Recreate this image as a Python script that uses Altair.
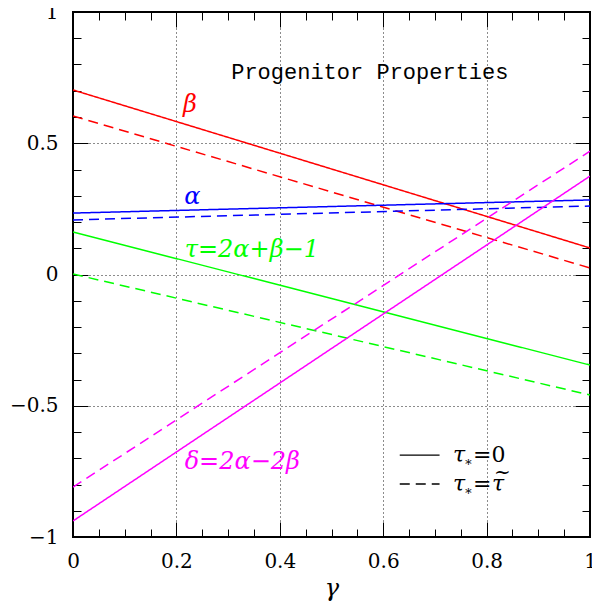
import altair as alt
import pandas as pd

# ---- data ----
gamma = [0.0, 1.0]
beta_solid = [0.703, 0.101]
beta_dashed = [0.604, 0.025]
alpha_solid = [0.234, 0.284]
alpha_dashed = [0.208, 0.261]
tau_solid = [0.162, -0.345]
tau_dashed = [0.002, -0.459]
delta_solid = [-0.939, 0.375]
delta_dashed = [-0.81, 0.47]

series_names = ["beta", "alpha", "tau", "delta"]
series_colors = ["#ff0000", "#0000ff", "#00ff00", "#ff00ff"]

x_major = [0, 0.2, 0.4, 0.6, 0.8, 1]
x_minor = [round(i * 0.05, 2) for i in range(21)]
x_grid = [0.2, 0.4, 0.6, 0.8]
y_major = [-1, -0.5, 0, 0.5, 1]
y_minor = [round(-1 + i * 0.1, 1) for i in range(21)]
y_grid = [-0.5, 0, 0.5]

label_text = ["β", "α", "τ=2α+β−1", "δ=2α−2β"]
label_x = [0.213, 0.215, 0.216, 0.216]
label_y = [0.646, 0.295, 0.093, -0.714]
label_color = ["#ff0000", "#0000ff", "#00ff00", "#ff00ff"]

title_text = ["Progenitor Properties"]
title_x = [0.306]
title_y = [0.771]

legend_case = ["solid", "dashed"]
legend_x1 = [0.632, 0.632]
legend_x2 = [0.709, 0.709]
legend_y = [-0.688, -0.798]
legend_tau_x = [0.735, 0.735]
legend_rhs = ["=0", "="]
tilde_case = ["dashed"]
tilde_x = [0.735]
tilde_y = [-0.798]

rows = []
for name, case, vals in [
    ("beta", "solid", beta_solid), ("beta", "dashed", beta_dashed),
    ("alpha", "solid", alpha_solid), ("alpha", "dashed", alpha_dashed),
    ("tau", "solid", tau_solid), ("tau", "dashed", tau_dashed),
    ("delta", "solid", delta_solid), ("delta", "dashed", delta_dashed),
]:
    for g, v in zip(gamma, vals):
        rows.append({"gamma": g, "value": v, "series": name, "case": case})
df = pd.DataFrame(rows)

xs = alt.Scale(domain=[0, 1], nice=False, zero=False)
ys = alt.Scale(domain=[-1, 1], nice=False, zero=False)

SERIF = "DejaVu Serif, Liberation Serif, serif"
MONO = "Liberation Mono, DejaVu Sans Mono, monospace"
LABEL_EXPR = "replace(format(datum.value, '~g'), '-', '−')"

def tick_axis(orient, values, size):
    return alt.Axis(orient=orient, values=values, labels=False, domain=False,
                    grid=False, title=None, ticks=True, tickSize=size,
                    offset=-size, tickColor="black", tickWidth=1)

def grid_axis(orient, values):
    return alt.Axis(orient=orient, values=values, labels=False, domain=False,
                    ticks=False, title=None, grid=True, gridColor="#000000",
                    gridDash=[1, 3], gridWidth=1, gridOpacity=0.9)

x_label_axis = alt.Axis(orient="bottom", values=x_major, ticks=False, domain=False,
                        grid=False, labelFont=SERIF, labelFontSize=20,
                        labelColor="black", labelPadding=14, labelFlush=False,
                        labelOverlap=False, labelExpr=LABEL_EXPR,
                        title="γ", titleFont=SERIF, titleFontStyle="italic",
                        titleFontWeight="normal", titleFontSize=24, titlePadding=5,
                        titleColor="black")
y_label_axis = alt.Axis(orient="left", values=y_major, ticks=False, domain=False,
                        grid=False, labelFont=SERIF, labelFontSize=20,
                        labelColor="black", labelPadding=15, labelFlush=False,
                        labelOverlap=False, labelExpr=LABEL_EXPR,
                        title=None)

ax_pairs = [
    (x_label_axis, y_label_axis),
    (grid_axis("bottom", x_grid), grid_axis("left", y_grid)),
    (tick_axis("bottom", x_major, 15), tick_axis("left", y_major, 15)),
    (tick_axis("bottom", x_minor, 8), tick_axis("left", y_minor, 8)),
    (tick_axis("top", x_major, 15), tick_axis("right", y_major, 15)),
    (tick_axis("top", x_minor, 8), tick_axis("right", y_minor, 8)),
]

axis_layers = [
    alt.Chart(df).mark_point(opacity=0).encode(
        x=alt.X("gamma:Q", scale=xs, axis=axx),
        y=alt.Y("value:Q", scale=ys, axis=axy),
    )
    for axx, axy in ax_pairs
]

dash_scale = alt.Scale(domain=["solid", "dashed"], range=[[1, 0], [10, 6]])

lines = alt.Chart(df).mark_line(strokeWidth=1.5, clip=True).encode(
    x=alt.X("gamma:Q", scale=xs, axis=None),
    y=alt.Y("value:Q", scale=ys, axis=None),
    color=alt.Color("series:N", scale=alt.Scale(domain=series_names, range=series_colors), legend=None),
    strokeDash=alt.StrokeDash("case:N", scale=dash_scale, legend=None),
)

lab_df = pd.DataFrame({"text": label_text, "x": label_x, "y": label_y, "c": label_color})
labels = alt.Chart(lab_df).mark_text(align="left", baseline="middle", font=SERIF,
                                     fontStyle="italic", fontSize=24).encode(
    x=alt.X("x:Q", scale=xs, axis=None),
    y=alt.Y("y:Q", scale=ys, axis=None),
    text="text:N",
    color=alt.Color("c:N", scale=None),
)

tt_df = pd.DataFrame({"text": title_text, "x": title_x, "y": title_y})
title = alt.Chart(tt_df).mark_text(align="left", baseline="middle", font=MONO,
                                   fontSize=22, color="black").encode(
    x=alt.X("x:Q", scale=xs, axis=None),
    y=alt.Y("y:Q", scale=ys, axis=None),
    text="text:N",
)

leg_df = pd.DataFrame({"case": legend_case, "x1": legend_x1, "x2": legend_x2, "y": legend_y,
                       "tx": legend_tau_x, "rhs": legend_rhs})
leg_lines = alt.Chart(leg_df).mark_rule(color="black", strokeWidth=1.3).encode(
    x=alt.X("x1:Q", scale=xs, axis=None),
    x2="x2:Q",
    y=alt.Y("y:Q", scale=ys, axis=None),
    strokeDash=alt.StrokeDash("case:N", scale=dash_scale, legend=None),
)
leg_tau = alt.Chart(leg_df).mark_text(align="left", baseline="middle", font=SERIF,
                                      fontStyle="italic", fontSize=22, color="black").encode(
    x=alt.X("tx:Q", scale=xs, axis=None),
    y=alt.Y("y:Q", scale=ys, axis=None),
    text=alt.value("τ"),
)
leg_star = alt.Chart(leg_df).mark_text(align="left", baseline="middle", font=SERIF,
                                       fontSize=13, color="black", dx=11, dy=7).encode(
    x=alt.X("tx:Q", scale=xs, axis=None),
    y=alt.Y("y:Q", scale=ys, axis=None),
    text=alt.value("∗"),
)
leg_rhs = alt.Chart(leg_df).mark_text(align="left", baseline="middle", font=SERIF,
                                      fontSize=22, color="black", dx=20).encode(
    x=alt.X("tx:Q", scale=xs, axis=None),
    y=alt.Y("y:Q", scale=ys, axis=None),
    text="rhs:N",
)
tl_df = pd.DataFrame({"case": tilde_case, "x": tilde_x, "y": tilde_y})
leg_tau2 = alt.Chart(tl_df).mark_text(align="left", baseline="middle", font=SERIF,
                                      fontStyle="italic", fontSize=22, color="black", dx=39).encode(
    x=alt.X("x:Q", scale=xs, axis=None),
    y=alt.Y("y:Q", scale=ys, axis=None),
    text=alt.value("τ"),
)
leg_tilde = alt.Chart(tl_df).mark_text(align="left", baseline="middle", font=SERIF,
                                       fontSize=20, color="black", dx=41, dy=-11).encode(
    x=alt.X("x:Q", scale=xs, axis=None),
    y=alt.Y("y:Q", scale=ys, axis=None),
    text=alt.value("~"),
)

chart = alt.layer(
    *axis_layers, lines, labels, title, leg_lines, leg_tau, leg_star, leg_rhs,
    leg_tau2, leg_tilde
).resolve_axis(x="independent", y="independent").properties(
    width=517, height=525,
    autosize=alt.AutoSizeParams(type="none"),
    padding={"left": 65, "top": 4, "right": 2, "bottom": 66},
).configure_view(stroke="black", strokeWidth=2)

chart.save("out.html", embed_options={"renderer": "svg", "actions": False})
